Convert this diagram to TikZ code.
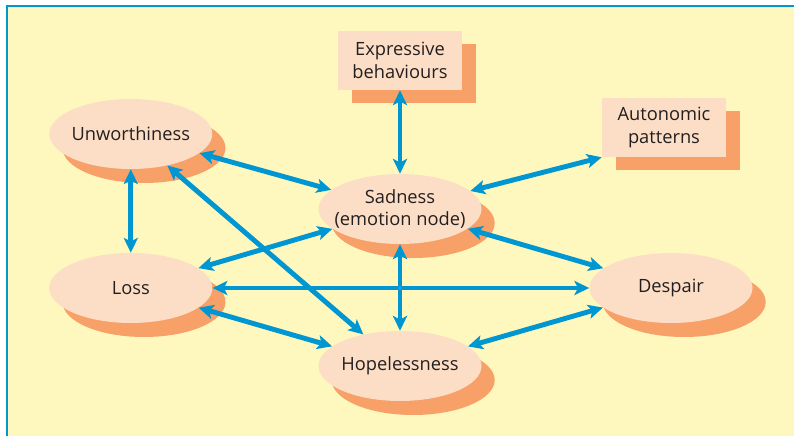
\documentclass[tikz,border=0pt]{standalone}
\usepackage{fontspec}
\setmainfont{Open Sans}
\usetikzlibrary{positioning}
\usetikzlibrary{shapes.geometric}
\usetikzlibrary{shadows}
\usetikzlibrary{arrows.meta}

\definecolor{paper}{HTML}{FFF8BE}
\definecolor{peach}{HTML}{FCDEC6}
\definecolor{shadoworange}{HTML}{F7A067}
\definecolor{linkblue}{HTML}{0096D1}
\definecolor{ink}{HTML}{231F20}

\tikzset{
    emo/.style={ellipse, fill=peach, inner sep=0pt,
        minimum width=4.075cm, minimum height=1.75cm,
        copy shadow={fill=shadoworange, draw=none,
            shadow xshift=0.33cm, shadow yshift=-0.35cm}},
    resp/.style={rectangle, fill=peach, align=center, text=ink,
        minimum width=3.1cm, minimum height=1.475cm,
        copy shadow={fill=shadoworange, draw=none,
            shadow xshift=0.35cm, shadow yshift=-0.33cm}},
    lbl/.style={align=center, text=ink},
    link/.style={<->, >={Stealth[length=10.5pt, width=10pt, inset=2.5pt]},
        draw=linkblue, line width=3.5pt}
}

\begin{document}
\begin{tikzpicture}[every node/.style={font=\fontsize{13}{16}\selectfont}]
    \useasboundingbox (0, 0) rectangle (19.85, 10.9);
    \fill [white] (0, 0) rectangle (19.85, 10.9);
    \fill [paper] (0.2, 0) rectangle (19.85, 10.73);
    \draw [linkblue, line width=1.5pt] (0.175, 0) |- (19.85, 10.76);

    \path (10, 9.3875) node [resp] (expr) {Expressive\\behaviours};
    \path (16.6, 7.7125) node [resp] (auto) {Autonomic\\patterns};

    \path (3.27, 7.55) node [emo, label={[lbl]center:Unworthiness}] (unw) {};
    \path (10, 5.675) node [emo, label={[lbl]center:{Sadness\\(emotion node)}}] (sad) {};
    \path (3.27, 3.7) node [emo, label={[lbl]center:Loss}] (loss) {};
    \path (16.775, 3.7) node [emo, label={[lbl]center:Despair}] (desp) {};
    \path (10, 1.75) node [emo, label={[lbl]center:Hopelessness}] (hope) {};

    \draw [link] (expr) -- (sad);
    \draw [link] (sad) -- (auto.south west);
    \draw [link] (unw) -- (sad);
    \draw [link] (unw) -- (loss);
    \draw [link] (unw) -- (hope);
    \draw [link] (sad) -- (loss);
    \draw [link] (sad) -- (hope);
    \draw [link] (sad) -- (desp);
    \draw [link] (loss) -- (desp);
    \draw [link] (loss) -- (hope);
    \draw [link] (hope) -- (desp);
\end{tikzpicture}
\end{document}
